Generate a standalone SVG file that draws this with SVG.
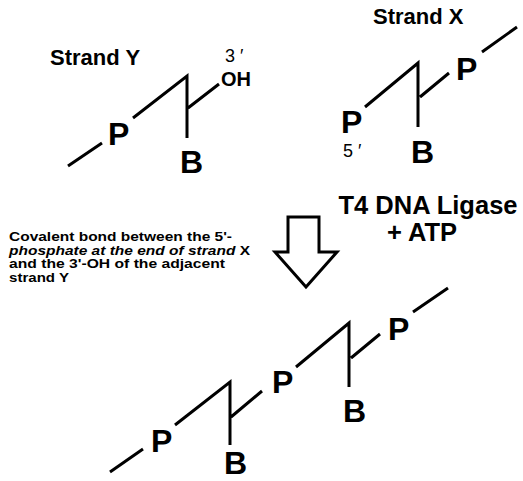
<svg xmlns="http://www.w3.org/2000/svg" width="523" height="481" viewBox="0 0 523 481">
<style>
.ln{stroke:#000;stroke-width:3;fill:none;stroke-linecap:butt;stroke-linejoin:miter}
.big{font-family:"Liberation Sans",Arial,sans-serif;font-weight:bold;font-size:32px;fill:#000}
.lbl{font-family:"Liberation Sans",Arial,sans-serif;font-weight:bold;font-size:22px;fill:#000}
.sm{font-family:"Liberation Sans",Arial,sans-serif;font-size:18px;fill:#000}
.oh{font-family:"Liberation Sans",Arial,sans-serif;font-weight:bold;font-size:20px;fill:#000}
.enz{font-family:"Liberation Sans",Arial,sans-serif;font-weight:bold;font-size:25.5px;fill:#000}
.note{font-family:"Liberation Sans",Arial,sans-serif;font-weight:bold;font-size:13.5px;fill:#000}
</style>
<rect width="523" height="481" fill="#fff"/>
<g id="strandY">
<text class="lbl" x="50" y="65">Strand Y</text>
<path class="ln" d="M68,166 L102,143 M133,118 L187,76 L187,138 M188,108 L219,84"/>
<text class="big" x="108" y="145">P</text>
<text class="big" x="180" y="173">B</text>
<text class="sm" x="225" y="62">3 ′</text>
<text class="oh" x="221" y="86">OH</text>
</g>
<g id="strandX">
<text class="lbl" x="373" y="24">Strand X</text>
<path class="ln" d="M365,107 L418,63 L418,127 M420,97 L449,73 M482,52 L517,27"/>
<text class="big" x="341" y="133">P</text>
<text class="big" x="456" y="80">P</text>
<text class="big" x="411" y="163">B</text>
<text class="sm" x="343" y="157">5 ′</text>
</g>
<g id="arrow">
<path d="M288,217 L319,217 L319,252 L337,252 L306,287 L275,252 L288,252 Z" fill="#fff" stroke="#000" stroke-width="3" stroke-linejoin="miter"/>
</g>
<g id="enzyme">
<text class="enz" x="428" y="214" text-anchor="middle">T4 DNA Ligase</text>
<text class="enz" x="422" y="241" text-anchor="middle">+ ATP</text>
</g>
<g id="note">
<text class="note" x="9" y="241" textLength="223" lengthAdjust="spacingAndGlyphs">Covalent bond between the 5'-</text>
<text class="note" x="9" y="254.5" textLength="241" lengthAdjust="spacingAndGlyphs"><tspan font-style="italic">phosphate at the end of strand</tspan> X</text>
<text class="note" x="9" y="268" textLength="216" lengthAdjust="spacingAndGlyphs">and the 3'-OH of the adjacent</text>
<text class="note" x="9" y="282" textLength="60" lengthAdjust="spacingAndGlyphs">strand Y</text>
</g>
<g id="product">
<path class="ln" d="M110,472 L143,449 M175,425 L230,382 L230,445 M231,417 L262,391 M296,367 L349,323 L349,387 M351,358 L380,334 M413,312 L448,288"/>
<text class="big" x="151" y="452">P</text>
<text class="big" x="224" y="474">B</text>
<text class="big" x="272" y="393">P</text>
<text class="big" x="343" y="422">B</text>
<text class="big" x="388" y="340">P</text>
</g>
</svg>
